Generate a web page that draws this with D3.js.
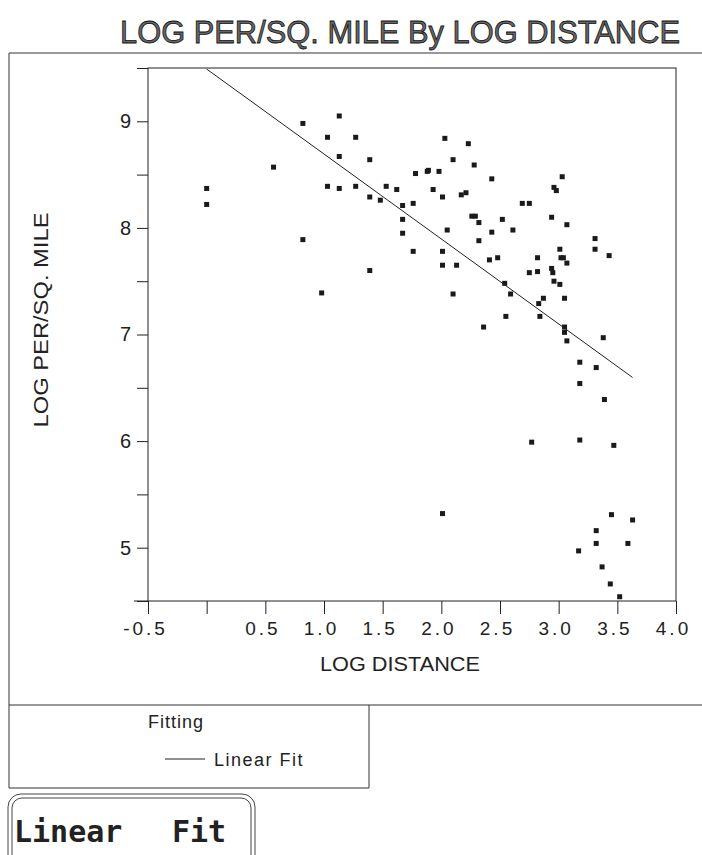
<!DOCTYPE html>
<html>
<head>
<meta charset="utf-8">
<script src="https://cdn.jsdelivr.net/npm/d3@7"></script>
<style>
  body { margin: 0; background: #fff; }
  svg { display: block; }
  text { font-family: "Liberation Sans", Arial, sans-serif; fill: #222; }
</style>
</head>
<body>
<svg id="chart" width="702" height="855"></svg>
<script>
// LOG DISTANCE (x) and LOG PER/SQ. MILE (y)
var logDistance = [
  0.82, 1.13, 1.03, 1.27, 1.13, 1.39, 0.57, 1.78, 0.00, 0.00,
  1.03, 1.13, 1.27, 1.39, 1.48, 1.53, 1.62, 1.67, 1.76, 1.67,
  1.67, 1.76, 0.82, 1.39, 0.98, 2.03, 2.23, 2.10, 2.28, 1.89,
  1.88, 1.98, 2.43, 3.03, 1.93, 2.01, 2.17, 2.21, 2.96, 2.98,
  2.69, 2.75, 2.26, 2.29, 2.32, 2.52, 2.94, 3.07, 2.05, 2.43,
  2.61, 2.32, 3.31, 2.01, 2.41, 2.48, 2.01, 2.13, 2.82, 3.01,
  3.02, 3.04, 3.07, 3.31, 3.43, 2.75, 2.82, 2.94, 2.95, 2.96,
  3.01, 2.10, 2.54, 2.59, 2.83, 2.87, 3.05, 2.55, 2.84, 2.36,
  3.05, 3.05, 3.07, 3.38, 3.18, 3.32, 3.18, 3.39, 2.77, 3.18,
  3.47, 2.01, 3.45, 3.63, 3.32, 3.32, 3.59, 3.17, 3.37, 3.44,
  3.52
];
var logPerSqMile = [
  8.98, 9.05, 8.85, 8.85, 8.67, 8.64, 8.57, 8.51, 8.37, 8.22,
  8.39, 8.37, 8.39, 8.29, 8.26, 8.39, 8.36, 8.21, 8.23, 8.08,
  7.95, 7.78, 7.89, 7.60, 7.39, 8.84, 8.79, 8.64, 8.59, 8.54,
  8.53, 8.53, 8.46, 8.48, 8.36, 8.29, 8.31, 8.33, 8.38, 8.35,
  8.23, 8.23, 8.11, 8.11, 8.05, 8.08, 8.10, 8.03, 7.98, 7.96,
  7.98, 7.88, 7.90, 7.78, 7.70, 7.72, 7.65, 7.65, 7.72, 7.80,
  7.72, 7.72, 7.67, 7.80, 7.74, 7.58, 7.59, 7.62, 7.58, 7.50,
  7.47, 7.38, 7.48, 7.38, 7.29, 7.34, 7.34, 7.17, 7.17, 7.07,
  7.07, 7.02, 6.94, 6.97, 6.74, 6.69, 6.54, 6.39, 5.99, 6.01,
  5.96, 5.32, 5.31, 5.26, 5.16, 5.04, 5.04, 4.97, 4.82, 4.66,
  4.54
];

// linear fit as drawn
var fitIntercept = 9.49;
var fitSlope = -0.797;

var xTickValues = [-0.5, 0, 0.5, 1.0, 1.5, 2.0, 2.5, 3.0, 3.5, 4.0];
var xTickLabels = ["-0.5", "", "0.5", "1.0", "1.5", "2.0", "2.5", "3.0", "3.5", "4.0"];
var yTickValues = [4.5, 5, 5.5, 6, 6.5, 7, 7.5, 8, 8.5, 9, 9.5];
var yTickLabels = ["", "5", "", "6", "", "7", "", "8", "", "9", ""];

var svg = d3.select('#chart');
var ink = '#222';

var x = d3.scaleLinear().domain([-0.5, 4.0]).range([148, 676]);
var y = d3.scaleLinear().domain([4.5, 9.5]).range([601, 68]);

// title
svg.append('text')
  .attr('x', 400).attr('y', 43)
  .attr('text-anchor', 'middle')
  .attr('textLength', 560).attr('lengthAdjust', 'spacingAndGlyphs')
  .style('font-size', '32px')
  .style('fill', '#666').style('stroke', '#111').style('stroke-width', 0.8)
  .text('LOG PER/SQ. MILE By LOG DISTANCE');

// outer frame of the report
var frame = svg.append('g').attr('stroke', '#333').attr('stroke-width', 1).attr('fill', 'none');
frame.append('line').attr('x1', 9).attr('y1', 53).attr('x2', 702).attr('y2', 53);
frame.append('line').attr('x1', 9).attr('y1', 53).attr('x2', 9).attr('y2', 788);
frame.append('line').attr('x1', 9).attr('y1', 705).attr('x2', 702).attr('y2', 705);

// plot box
svg.append('rect')
  .attr('x', x(-0.5)).attr('y', y(9.5))
  .attr('width', x(4) - x(-0.5)).attr('height', y(4.5) - y(9.5))
  .attr('fill', 'none').attr('stroke', ink).attr('stroke-width', 1);
// axis line runs a little past the corner
svg.append('line')
  .attr('x1', x(-0.5) - 14).attr('y1', y(4.5)).attr('x2', x(-0.5)).attr('y2', y(4.5))
  .attr('stroke', ink);

// x axis
var xAxis = svg.append('g')
  .attr('transform', 'translate(0,' + y(4.5) + ')')
  .call(d3.axisBottom(x)
    .tickValues(xTickValues)
    .tickSize(13)
    .tickPadding(8)
    .tickFormat(function(d, i) { return xTickLabels[i]; }));
xAxis.select('.domain').remove();
xAxis.selectAll('line').attr('stroke', ink);
xAxis.selectAll('text')
  .style('font-size', '19px')
  .style('letter-spacing', '3px')
  .style('font-family', '"Liberation Sans", Arial, sans-serif')
  .attr('fill', ink)
  .attr('dx', -3);

// y axis
var yAxis = svg.append('g')
  .attr('transform', 'translate(' + x(-0.5) + ',0)')
  .call(d3.axisLeft(y)
    .tickValues(yTickValues)
    .tickSize(11)
    .tickPadding(6)
    .tickFormat(function(d, i) { return yTickLabels[i]; }));
yAxis.select('.domain').remove();
yAxis.selectAll('line').attr('stroke', ink);
yAxis.selectAll('text')
  .style('font-size', '20px')
  .style('font-family', '"Liberation Sans", Arial, sans-serif')
  .attr('fill', ink);

// axis titles
svg.append('text')
  .attr('x', 400).attr('y', 671)
  .attr('text-anchor', 'middle')
  .attr('textLength', 160).attr('lengthAdjust', 'spacingAndGlyphs')
  .style('font-size', '20px')
  .text('LOG DISTANCE');

svg.append('text')
  .attr('transform', 'translate(48,320) rotate(-90)')
  .attr('text-anchor', 'middle')
  .attr('textLength', 215).attr('lengthAdjust', 'spacingAndGlyphs')
  .style('font-size', '20px')
  .text('LOG PER/SQ. MILE');

// fit line over the range of the data
var xr = d3.extent(logDistance);
var line = d3.line()
  .x(function(d) { return x(d); })
  .y(function(d) { return y(fitIntercept + fitSlope * d); });
svg.append('path')
  .datum(xr)
  .attr('d', line)
  .attr('fill', 'none').attr('stroke', ink).attr('stroke-width', 1);

// points
svg.append('g')
  .selectAll('rect')
  .data(logDistance)
  .join('rect')
  .attr('x', function(d) { return x(d) - 2.5; })
  .attr('y', function(d, i) { return y(logPerSqMile[i]) - 2.5; })
  .attr('width', 5).attr('height', 5)
  .attr('fill', '#1a1a1a');

// fitting legend
var legend = svg.append('g');
legend.append('line').attr('x1', 369).attr('y1', 705).attr('x2', 369).attr('y2', 788)
  .attr('stroke', '#333');
legend.append('line').attr('x1', 9).attr('y1', 788).attr('x2', 369).attr('y2', 788)
  .attr('stroke', '#333');
legend.append('text')
  .attr('x', 148).attr('y', 728)
  .style('font-size', '18px').style('letter-spacing', '1px')
  .text('Fitting');
legend.append('line')
  .attr('x1', 165).attr('y1', 759).attr('x2', 205).attr('y2', 759)
  .attr('stroke', ink);
legend.append('text')
  .attr('x', 214).attr('y', 766)
  .style('font-size', '18px').style('letter-spacing', '1.5px')
  .text('Linear  Fit');

// button-like box
var btn = svg.append('g');
btn.append('rect')
  .attr('x', 8).attr('y', 794).attr('width', 247).attr('height', 80).attr('rx', 13)
  .attr('fill', 'none').attr('stroke', '#444');
btn.append('rect')
  .attr('x', 12).attr('y', 798).attr('width', 239).attr('height', 80).attr('rx', 10)
  .attr('fill', 'none').attr('stroke', '#444');
btn.append('text')
  .attr('x', 14).attr('y', 842)
  .style('font-family', '"DejaVu Sans Mono", "Liberation Mono", monospace')
  .style('font-size', '30px').style('font-weight', 'bold')
  .text('Linear');
btn.append('text')
  .attr('x', 172).attr('y', 842)
  .style('font-family', '"DejaVu Sans Mono", "Liberation Mono", monospace')
  .style('font-size', '30px').style('font-weight', 'bold')
  .text('Fit');
</script>
</body>
</html>
